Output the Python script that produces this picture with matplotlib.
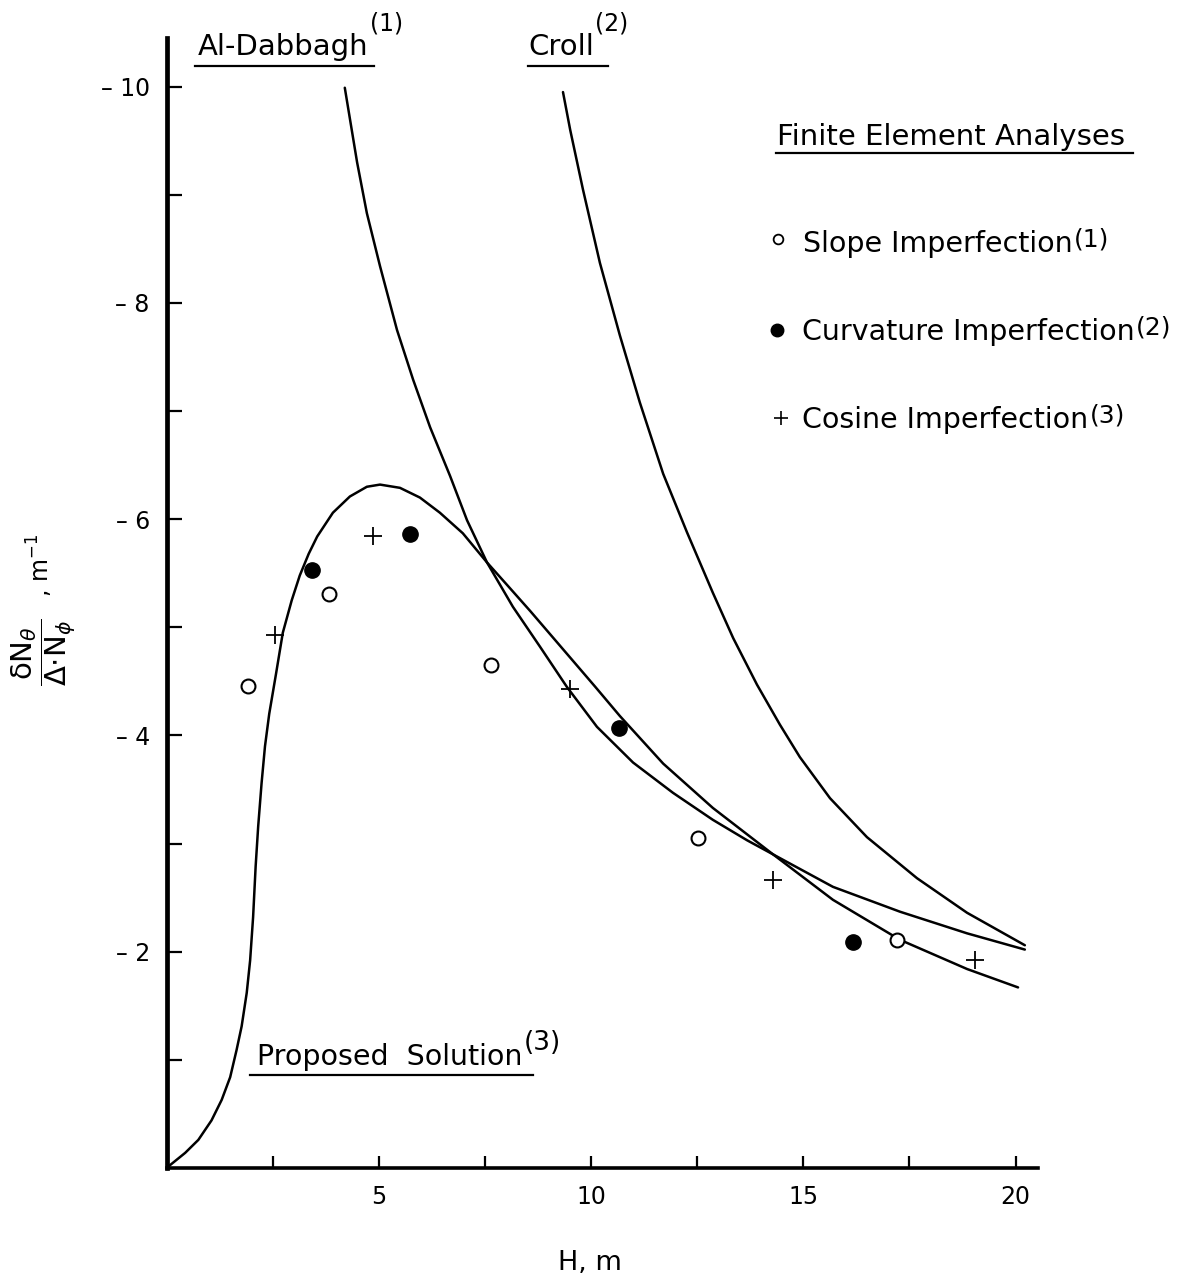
import matplotlib
matplotlib.use("Agg")
import matplotlib.pyplot as plt
from matplotlib.lines import Line2D

plt.rcParams["font.family"] = ["DejaVu Sans"]
plt.rcParams["mathtext.fontset"] = "dejavusans"

# ---- theoretical curves: H (m) vs dN_theta / (Delta * N_phi) (1/m) ----
proposed_H = [0, 0.44, 0.75, 1.06, 1.30, 1.50, 1.65, 1.77, 1.89, 1.97, 2.04,
              2.10, 2.16, 2.24, 2.32, 2.42, 2.58, 2.74, 2.95, 3.14, 3.35, 3.55,
              3.92, 4.32, 4.72, 5.03, 5.50, 5.97, 6.44, 6.98, 7.55, 8.05, 8.57,
              9.51, 10.10, 10.68, 11.70, 12.87, 14.29, 15.70, 17.28, 18.86,
              20.06]
proposed_v = [0, -0.14, -0.26, -0.44, -0.63, -0.84, -1.09, -1.31, -1.62,
              -1.92, -2.32, -2.79, -3.16, -3.56, -3.90, -4.20, -4.57, -4.95,
              -5.25, -5.48, -5.68, -5.84, -6.06, -6.21, -6.30, -6.32, -6.29,
              -6.20, -6.06, -5.87, -5.60, -5.38, -5.15, -4.72, -4.45, -4.18,
              -3.74, -3.33, -2.90, -2.48, -2.11, -1.84, -1.67]

dabbagh_H = [4.20, 4.49, 4.72, 5.03, 5.43, 5.81, 6.21, 6.68, 7.08, 7.55, 8.16,
             8.80, 9.43, 10.14, 10.99, 11.93, 12.87, 13.68, 14.29, 15.70, 17.28,
             18.86, 20.22]
dabbagh_v = [-9.99, -9.30, -8.83, -8.34, -7.75, -7.29, -6.85, -6.40, -5.99,
             -5.60, -5.19, -4.82, -4.45, -4.08, -3.75, -3.47, -3.22, -3.03,
             -2.90, -2.60, -2.37, -2.17, -2.02]

croll_H = [9.34, 9.51, 9.81, 10.21, 10.68, 11.15, 11.70, 12.26, 12.87, 13.35,
           13.91, 14.45, 14.92, 15.63, 16.50, 17.68, 18.86, 20.22]
croll_v = [-9.95, -9.60, -9.05, -8.37, -7.70, -7.08, -6.42, -5.88, -5.32,
           -4.90, -4.47, -4.10, -3.80, -3.42, -3.06, -2.68, -2.36, -2.06]

# ---- finite element results ----
slope_H = [1.92, 3.83, 7.64, 12.52, 17.21]
slope_v = [-4.46, -5.31, -4.65, -3.05, -2.11]

curvature_H = [3.43, 5.74, 10.65, 16.17]
curvature_v = [-5.53, -5.86, -4.07, -2.09]

cosine_H = [2.56, 4.86, 9.51, 14.29, 19.05]
cosine_v = [-4.93, -5.84, -4.43, -2.66, -1.92]

# ---- axis ticks ----
x_ticks = [2.5, 5, 7.5, 10, 12.5, 15, 17.5, 20]
x_ticklabels = ["", "5", "", "10", "", "15", "", "20"]
y_ticks = [-1, -2, -3, -4, -5, -6, -7, -8, -9, -10]
y_ticklabels = ["", "\u2013 2", "", "\u2013 4", "", "\u2013 6", "",
                "\u2013 8", "", "\u2013 10"]

W, H = 1179, 1285
fig = plt.figure(figsize=(W / 100, H / 100), dpi=100)
ax = fig.add_axes([166.5 / W, 1 - 1168 / H, (1038 - 166.5) / W, (1168 - 38) / H])
ax.set_xlim(0, 20.53)
ax.set_ylim(0, -10.45)

for side in ("top", "right"):
    ax.spines[side].set_visible(False)
ax.spines["left"].set_linewidth(3.4)
ax.spines["bottom"].set_linewidth(2.6)

ax.tick_params(axis="x", direction="in", length=9, width=1.6, pad=12)
ax.tick_params(axis="y", direction="in", length=11, width=1.6, pad=12)
ax.set_xticks(x_ticks)
ax.set_xticklabels(x_ticklabels, fontsize=17)
ax.set_yticks(y_ticks)
ax.set_yticklabels(y_ticklabels, fontsize=17)

lw = 1.8
for hs, vs in ((proposed_H, proposed_v), (dabbagh_H, dabbagh_v),
               (croll_H, croll_v)):
    ax.plot(hs, vs, color="black", lw=lw, solid_joinstyle="round",
            solid_capstyle="round")

ax.plot(slope_H, slope_v, "o", ms=10, mfc="white", mec="black", mew=1.5, ls="none")
ax.plot(curvature_H, curvature_v, "o", ms=11, mfc="black", mec="black", ls="none")
ax.plot(cosine_H, cosine_v, "+", ms=13, mec="black", mew=1.3, ls="none")


def fx(px):
    return px / W


def fy(py):
    return 1 - py / H


def underline(x0, x1, y):
    fig.add_artist(Line2D([fx(x0), fx(x1)], [fy(y), fy(y)], color="black",
                          lw=1.6, transform=fig.transFigure))


def label(x, y, main, sup, fs, sfs, rise):
    """Text with a bracketed reference number set after it, raised by rise pt."""
    t = fig.text(fx(x), fy(y), main, fontsize=fs, ha="left", va="baseline")
    ax.annotate(sup, xy=(1, 0), xycoords=t, xytext=(1, rise),
                textcoords="offset points", fontsize=sfs, ha="left",
                va="bottom", annotation_clip=False)
    return t


label(198, 55, "Al-Dabbagh", "(1)", 21, 17, 18)
underline(195, 374, 66)
label(528, 55, "Croll", "(2)", 21, 17, 18)
underline(528, 608, 66)

fig.text(fx(777), fy(145), "Finite Element Analyses", fontsize=21,
         ha="left", va="baseline")
underline(776, 1133, 153)

fig.add_artist(Line2D([fx(778)], [fy(239)], marker="o", ms=7, mfc="white",
                      mec="black", mew=1.3, transform=fig.transFigure))
label(803, 252, "Slope Imperfection", "(1)", 20.5, 18, 5)
fig.add_artist(Line2D([fx(777)], [fy(330)], marker="o", ms=9, mfc="black",
                      mec="black", transform=fig.transFigure))
label(802, 340, "Curvature Imperfection", "(2)", 20.5, 18, 5)
fig.add_artist(Line2D([fx(781)], [fy(418)], marker="+", ms=10, mec="black",
                      mew=1.2, transform=fig.transFigure))
label(802, 428, "Cosine Imperfection", "(3)", 20.5, 18, 5)

label(257, 1065, "Proposed  Solution", "(3)", 20.5, 19, 11)
underline(250, 533, 1075)

fig.text(fx(590), fy(1263), "H, m", fontsize=19.5, ha="center", va="center")
fig.text(fx(44), fy(652),
         r"$\dfrac{\mathrm{\delta N}_{\theta}}{\mathrm{\Delta{\cdot}N}_{\phi}}$",
         fontsize=21, rotation=90, ha="center", va="center")
fig.text(fx(40), fy(565), r", m$^{-1}$", fontsize=17, rotation=90,
         ha="center", va="center")

fig.savefig("out.png", dpi=100, facecolor="white")
